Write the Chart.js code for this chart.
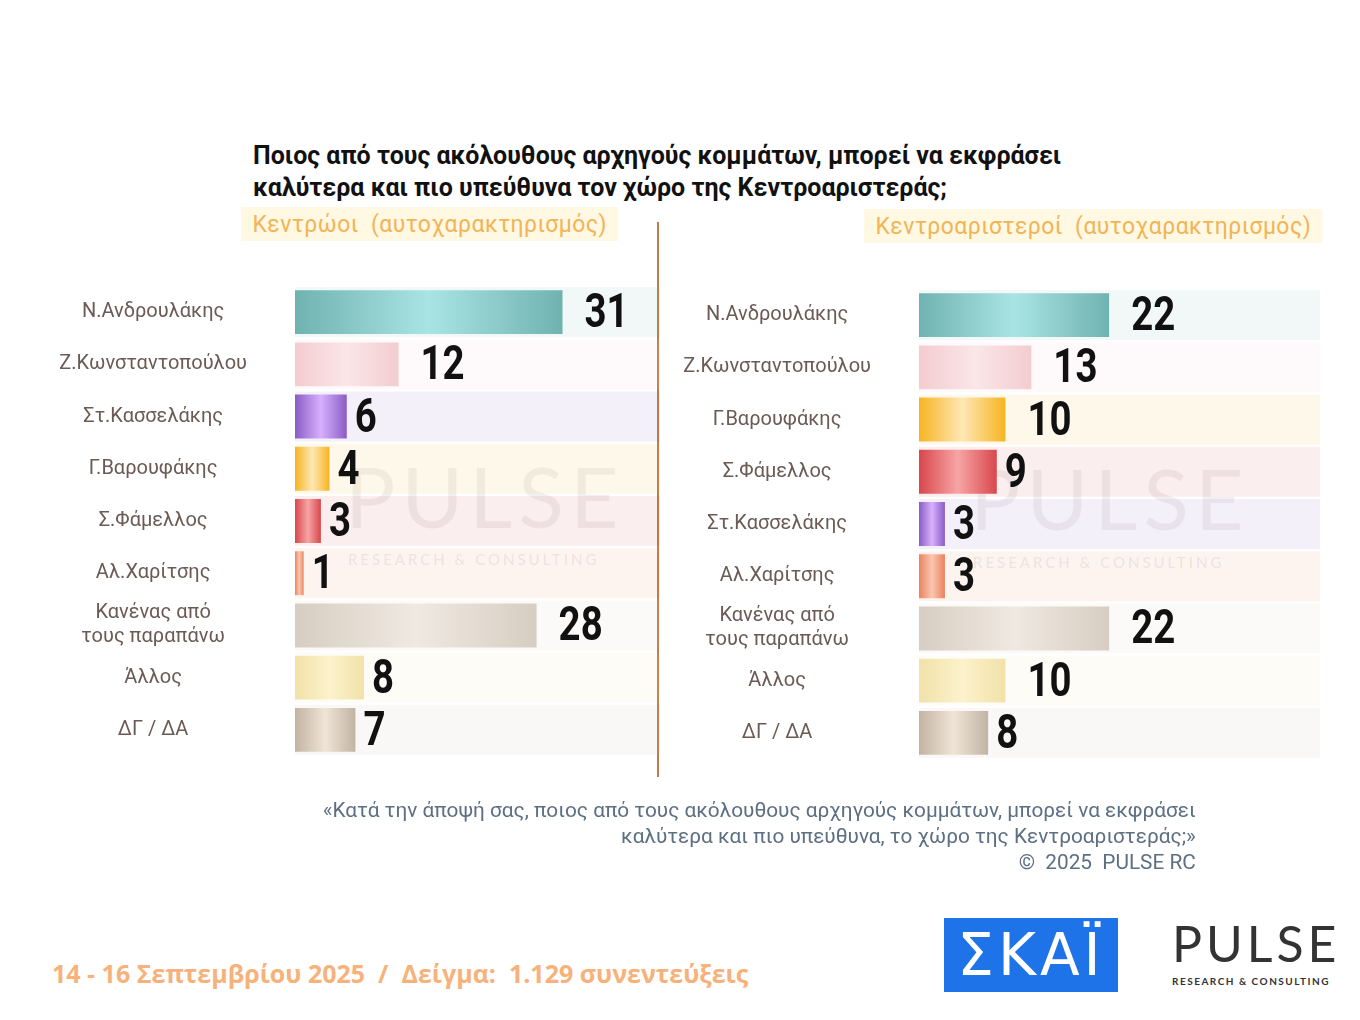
<!DOCTYPE html>
<html lang="el">
<head>
<meta charset="UTF-8">
<title>Pulse</title>
<script src="https://cdn.jsdelivr.net/npm/chart.js"></script>
<style>
  body { margin: 0; width: 1360px; height: 1020px; background: #fff; position: relative; overflow: hidden;
         font-family: "Roboto", sans-serif; }
  .abs { position: absolute; white-space: nowrap; }
  #title { left: 253px; top: 140px; font-size: 25px; font-weight: bold; line-height: 32px; color: #111; }
  .sub { font-size: 24px; color: #f2b455; background: #fff8e3; padding: 0 12px; line-height: 34px; letter-spacing: 0.5px;
         transform: scaleX(0.955); transform-origin: left top; }
  #divider { left: 657px; top: 222px; width: 2px; height: 555px; background: #c27a48; }
  .box { position: absolute; }
  .wm { color: rgba(150,140,140,0.13); font-family: "Lato", sans-serif; font-size: 84px; letter-spacing: 6px; }
  .wm2 { color: rgba(150,140,140,0.18); font-family: "Lato", sans-serif; font-size: 15px; letter-spacing: 3px; }
  #quote { right: 164px; top: 797px; text-align: right; color: #5d6f82; font-size: 21px; line-height: 26px;
           transform: scaleX(0.99); transform-origin: right top; }
  #date { left: 52px; top: 956px; color: #f6b27a; font-size: 25px; font-weight: bold; font-family: "Open Sans", sans-serif; }
  #skai { left: 944px; top: 918px; width: 174px; height: 74px; background: #1e73e8; color: #fff; font-size: 58px;
          font-family: "DejaVu Sans", sans-serif; text-align: center; line-height: 74px; letter-spacing: 4px; }
  #pulse { left: 1172px; top: 918px; color: #333; font-family: "Lato", sans-serif; font-size: 50px; letter-spacing: 4px; line-height: 50px; }
  #pulse small { display: block; font-size: 10px; letter-spacing: 1.5px; line-height: 14px; font-weight: bold; margin-top: 6px; }
</style>
</head>
<body>
<div id="title" class="abs">Ποιος από τους ακόλουθους αρχηγούς κομμάτων, μπορεί να εκφράσει<br>καλύτερα και πιο υπεύθυνα τον χώρο της Κεντροαριστεράς;</div>
<div class="abs sub" style="left:241px; top:207px;">Κεντρώοι &nbsp;(αυτοχαρακτηρισμός)</div>
<div class="abs sub" style="left:864px; top:209px;">Κεντροαριστεροί &nbsp;(αυτοχαρακτηρισμός)</div>
<div id="divider" class="abs"></div>

<div class="abs wm" style="left:345px; top:445px;">PULSE</div>
<div class="abs wm2" style="left:348px; top:550px;">RESEARCH &amp; CONSULTING</div>
<div class="abs wm" style="left:970px; top:447px;">PULSE</div>
<div class="abs wm2" style="left:973px; top:553px;">RESEARCH &amp; CONSULTING</div>

<div class="box" style="left:40px; top:234px;"><canvas id="leftChart" width="620" height="574"></canvas></div>
<div class="box" style="left:665px; top:237px;"><canvas id="rightChart" width="655" height="574"></canvas></div>

<div id="quote" class="abs">«Κατά την άποψή σας, ποιος από τους ακόλουθους αρχηγούς κομμάτων, μπορεί να εκφράσει<br>καλύτερα και πιο υπεύθυνα, το χώρο της Κεντροαριστεράς;»<br>©&nbsp; 2025&nbsp; PULSE RC</div>
<div id="date" class="abs">14 - 16 Σεπτεμβρίου 2025&nbsp; / &nbsp;Δείγμα:&nbsp; 1.129 συνεντεύξεις</div>
<div id="skai" class="abs">ΣΚΑΪ</div>
<div id="pulse" class="abs">PULSE<small>RESEARCH &amp; CONSULTING</small></div>

<script>
// data
const leftLabels = ['Ν.Ανδρουλάκης', 'Ζ.Κωνσταντοπούλου', 'Στ.Κασσελάκης', 'Γ.Βαρουφάκης', 'Σ.Φάμελλος', 'Αλ.Χαρίτσης', ['Κανένας από', 'τους παραπάνω'], 'Άλλος', 'ΔΓ / ΔΑ'];
const leftValues = [31, 12, 6, 4, 3, 1, 28, 8, 7];
const rightLabels = ['Ν.Ανδρουλάκης', 'Ζ.Κωνσταντοπούλου', 'Γ.Βαρουφάκης', 'Σ.Φάμελλος', 'Στ.Κασσελάκης', 'Αλ.Χαρίτσης', ['Κανένας από', 'τους παραπάνω'], 'Άλλος', 'ΔΓ / ΔΑ'];
const rightValues = [22, 13, 10, 9, 3, 3, 22, 10, 8];

// colour per leader: [edge, middle]
const palette = {
  'Ν.Ανδρουλάκης': ['#6fb3b0', '#a9e4e4'],
  'Ζ.Κωνσταντοπούλου': ['#f3cccf', '#fbe6e8'],
  'Στ.Κασσελάκης': ['#8a5cc4', '#d7b0ff'],
  'Γ.Βαρουφάκης': ['#f7b421', '#fde7b5'],
  'Σ.Φάμελλος': ['#d8474c', '#f7a5a5'],
  'Αλ.Χαρίτσης': ['#e9835e', '#fbc6b0'],
  'Κανένας από': ['#d7cdc2', '#f0e9e1'],
  'Άλλος': ['#f1e2a8', '#fcf2cc'],
  'ΔΓ / ΔΑ': ['#c2b4a3', '#efe4d6']
};
function key(l) { return Array.isArray(l) ? l[0] : l; }

const bandPlugin = {
  id: 'bands',
  beforeDatasetsDraw(chart) {
    const { ctx, chartArea } = chart;
    const meta = chart.getDatasetMeta(0);
    ctx.save();
    meta.data.forEach((bar, i) => {
      const c = palette[key(chart.data.labels[i])][0];
      ctx.globalAlpha = 0.09;
      ctx.fillStyle = c;
      ctx.fillRect(chartArea.left, bar.y - 25, chartArea.right - chartArea.left, 50);
    });
    ctx.restore();
  },
  afterDatasetsDraw(chart) {
    const { ctx } = chart;
    const meta = chart.getDatasetMeta(0);
    const vals = chart.data.datasets[0].data;
    ctx.save();
    ctx.fillStyle = '#111';
    ctx.font = 'bold 48px Roboto, sans-serif';
    ctx.textBaseline = 'middle';
    meta.data.forEach((bar, i) => {
      const x = bar.x + (vals[i] >= 10 ? 22 : 8);
      ctx.save();
      ctx.translate(x, bar.y + 3);
      ctx.scale(0.8, 1);
      ctx.fillText(String(vals[i]), 0, 0);
      ctx.restore();
    });
    ctx.restore();
  }
};

function makeChart(id, labels, values, maxV, axisW) {
  new Chart(document.getElementById(id), {
    type: 'bar',
    data: {
      labels: labels,
      datasets: [{
        data: values,
        backgroundColor(c) {
          const cols = palette[key(labels[c.dataIndex])];
          const xs = c.chart.scales.x;
          if (!xs || !isFinite(xs.left) || xs.right <= xs.left) return cols[0];
          const x0 = xs.getPixelForValue(0), x1 = xs.getPixelForValue(values[c.dataIndex]);
          if (!isFinite(x0) || !isFinite(x1) || x1 <= x0) return cols[0];
          const g = c.chart.ctx.createLinearGradient(x0, 0, x1, 0);
          g.addColorStop(0, cols[0]);
          g.addColorStop(0.5, cols[1]);
          g.addColorStop(1, cols[0]);
          return g;
        },
        barPercentage: 0.84,
        categoryPercentage: 1
      }]
    },
    options: {
      indexAxis: 'y',
      responsive: false,
      animation: false,
      layout: { padding: 0 },
      plugins: { legend: { display: false }, tooltip: { enabled: false } },
      scales: {
        x: { min: 0, max: maxV, display: false },
        y: {
          grid: { display: false }, border: { display: false },
          afterFit(s) { s.width = axisW; },
          ticks: { color: '#6b5a55', padding: 40, crossAlign: 'center',
                   font: { family: 'Roboto', size: 20 } }
        }
      }
    },
    plugins: [bandPlugin]
  });
}

makeChart('leftChart', leftLabels, leftValues, 42.3, 255);
makeChart('rightChart', rightLabels, rightValues, 46.4, 254);
</script>
</body>
</html>
